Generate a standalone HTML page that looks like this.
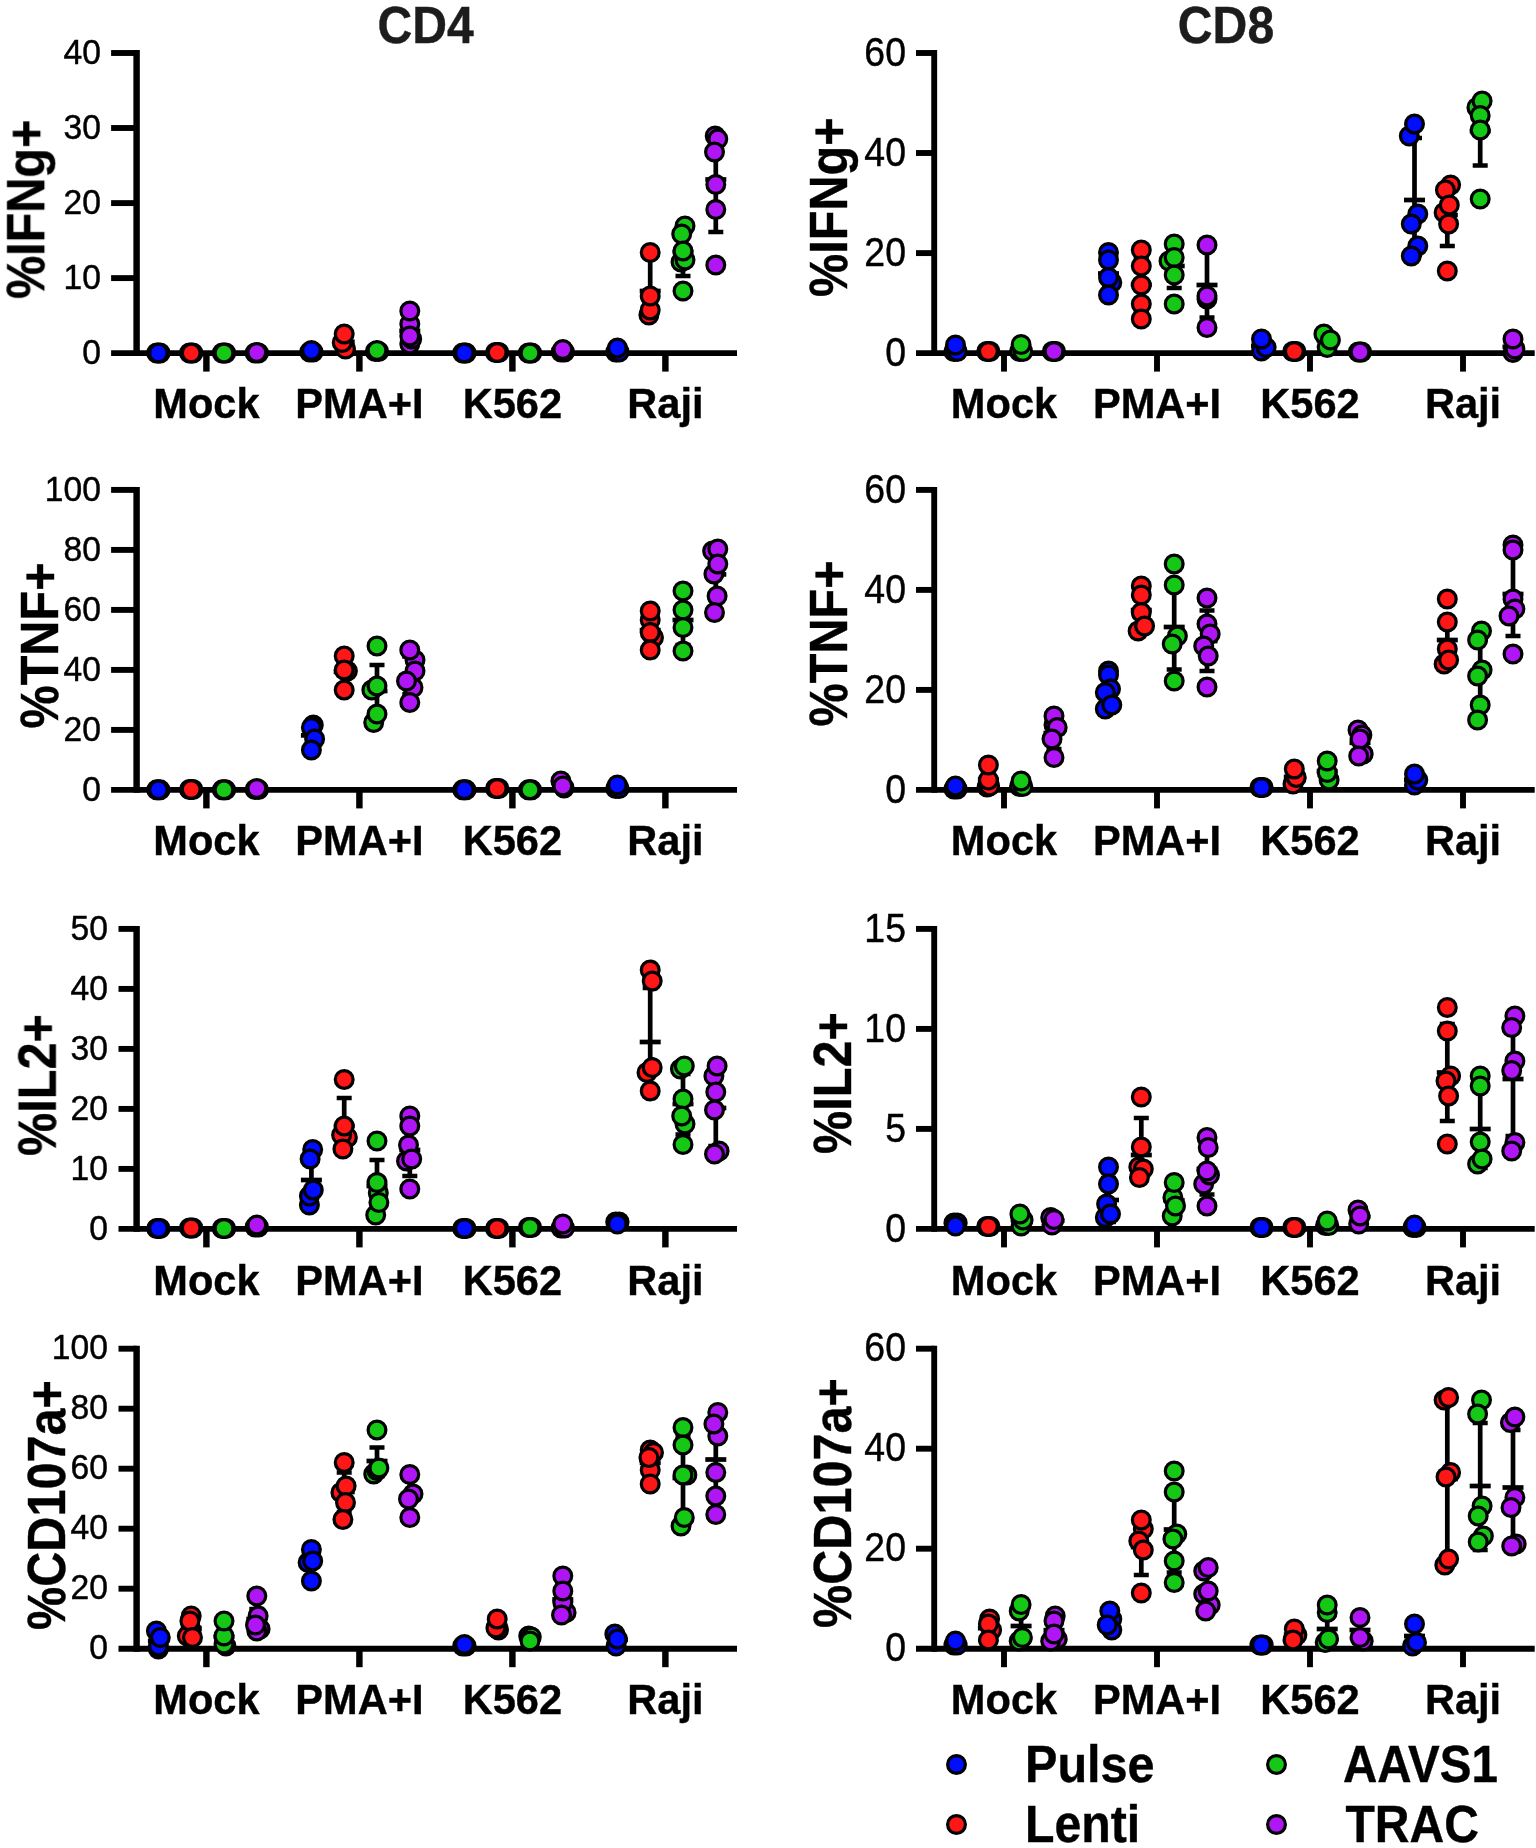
<!DOCTYPE html>
<html lang="en"><head><meta charset="utf-8"><title>Cytokine production CD4 / CD8</title>
<style>
html,body{margin:0;padding:0;background:#fff}
body{width:1536px;height:1848px;overflow:hidden}
svg{display:block}
text{font-family:"Liberation Sans",sans-serif;fill:#000;stroke:#000;stroke-width:0.4px}
.tl{font-weight:normal;stroke:#000;stroke-width:0.45px}
.cl{font-size:42.7px;font-weight:bold}
.yl{font-size:54px;font-weight:bold}
.tt{font-size:51.6px;font-weight:bold;fill:#1c1c1c;stroke:#1c1c1c}
.lg{font-size:52.7px;font-weight:bold}
circle{stroke:#000;stroke-width:3.2}
</style></head><body>
<svg width="1536" height="1848" viewBox="0 0 1536 1848">
<defs><filter id="soft" x="0" y="0" width="1536" height="1848" filterUnits="userSpaceOnUse"><feGaussianBlur stdDeviation="0.42"/></filter></defs>
<rect width="1536" height="1848" fill="#fff"/>
<g filter="url(#soft)">
<text class="tt" transform="translate(425.6 43.4) scale(0.934 1)" text-anchor="middle">CD4</text>
<text class="tt" transform="translate(1226 43.4) scale(0.934 1)" text-anchor="middle">CD8</text>
<path d="M136.6 50.05V356.05" stroke="#000" stroke-width="6.45"/>
<path d="M111.1 353.1H737" stroke="#000" stroke-width="5.9"/>
<text class="tl" font-size="36" transform="translate(101 363.7) scale(0.935 1)" text-anchor="end">0</text>
<path d="M111.1 278.1H136.6" stroke="#000" stroke-width="5.9"/>
<text class="tl" font-size="36" transform="translate(101 288.7) scale(0.935 1)" text-anchor="end">10</text>
<path d="M111.1 203.1H136.6" stroke="#000" stroke-width="5.9"/>
<text class="tl" font-size="36" transform="translate(101 213.7) scale(0.935 1)" text-anchor="end">20</text>
<path d="M111.1 128.0H136.6" stroke="#000" stroke-width="5.9"/>
<text class="tl" font-size="36" transform="translate(101 138.6) scale(0.935 1)" text-anchor="end">30</text>
<path d="M111.1 53.0H136.6" stroke="#000" stroke-width="5.9"/>
<text class="tl" font-size="36" transform="translate(101 63.6) scale(0.935 1)" text-anchor="end">40</text>
<path d="M206.4 353.1V371.6" stroke="#000" stroke-width="6.45"/>
<text class="cl" transform="translate(206.4 418.4) scale(0.974 1)" text-anchor="middle">Mock</text>
<path d="M359.4 353.1V371.6" stroke="#000" stroke-width="6.45"/>
<text class="cl" transform="translate(359.4 418.4) scale(0.974 1)" text-anchor="middle">PMA+I</text>
<path d="M512.4 353.1V371.6" stroke="#000" stroke-width="6.45"/>
<text class="cl" transform="translate(512.4 418.4) scale(0.974 1)" text-anchor="middle">K562</text>
<path d="M665.4 353.1V371.6" stroke="#000" stroke-width="6.45"/>
<text class="cl" transform="translate(665.4 418.4) scale(0.974 1)" text-anchor="middle">Raji</text>
<text class="yl" transform="translate(44.2 209.3) rotate(-90) scale(0.9 1)" text-anchor="middle">%IFNg+</text>
<path d="M147.9 353.0h21" stroke="#000" stroke-width="4.7" fill="none"/>
<circle cx="156.7" cy="353.0" r="8.9" fill="#0508ff"/>
<circle cx="160.1" cy="353.0" r="8.9" fill="#0508ff"/>
<circle cx="158.4" cy="353.0" r="8.9" fill="#0508ff"/>
<path d="M180.7 353.0h21" stroke="#000" stroke-width="4.7" fill="none"/>
<circle cx="189.5" cy="353.0" r="8.9" fill="#ff1212"/>
<circle cx="192.9" cy="353.0" r="8.9" fill="#ff1212"/>
<circle cx="191.2" cy="353.0" r="8.9" fill="#ff1212"/>
<path d="M213.5 353.0h21" stroke="#000" stroke-width="4.7" fill="none"/>
<circle cx="222.3" cy="353.0" r="8.9" fill="#14c814"/>
<circle cx="225.7" cy="353.0" r="8.9" fill="#14c814"/>
<circle cx="224.0" cy="353.0" r="8.9" fill="#14c814"/>
<path d="M246.3 352.8h21" stroke="#000" stroke-width="4.7" fill="none"/>
<circle cx="255.1" cy="353.0" r="8.9" fill="#b014f5"/>
<circle cx="258.5" cy="353.0" r="8.9" fill="#b014f5"/>
<circle cx="256.8" cy="352.5" r="8.9" fill="#b014f5"/>
<path d="M300.9 351.5h21" stroke="#000" stroke-width="4.7" fill="none"/>
<circle cx="309.7" cy="352.0" r="8.9" fill="#0508ff"/>
<circle cx="313.1" cy="352.0" r="8.9" fill="#0508ff"/>
<circle cx="311.4" cy="350.5" r="8.9" fill="#0508ff"/>
<path d="M344.2 334.3V349.4M336.7 334.3h15M336.7 349.4h15" stroke="#000" stroke-width="4.7" fill="none"/>
<path d="M333.7 341.8h21" stroke="#000" stroke-width="4.7" fill="none"/>
<circle cx="345.5" cy="349.0" r="8.9" fill="#ff1212"/>
<circle cx="342.2" cy="342.5" r="8.9" fill="#ff1212"/>
<circle cx="344.2" cy="334.0" r="8.9" fill="#ff1212"/>
<path d="M366.5 351.2h21" stroke="#000" stroke-width="4.7" fill="none"/>
<circle cx="375.3" cy="351.5" r="8.9" fill="#14c814"/>
<circle cx="378.7" cy="351.5" r="8.9" fill="#14c814"/>
<circle cx="377.0" cy="350.5" r="8.9" fill="#14c814"/>
<path d="M409.8 317.5V344.1M402.3 317.5h15M402.3 344.1h15" stroke="#000" stroke-width="4.7" fill="none"/>
<path d="M399.3 330.8h21" stroke="#000" stroke-width="4.7" fill="none"/>
<circle cx="409.8" cy="344.0" r="8.9" fill="#b014f5"/>
<circle cx="411.7" cy="339.0" r="8.9" fill="#b014f5"/>
<circle cx="409.8" cy="324.0" r="8.9" fill="#b014f5"/>
<circle cx="409.8" cy="336.0" r="8.9" fill="#b014f5"/>
<circle cx="409.8" cy="311.0" r="8.9" fill="#b014f5"/>
<path d="M453.9 353.0h21" stroke="#000" stroke-width="4.7" fill="none"/>
<circle cx="462.7" cy="353.0" r="8.9" fill="#0508ff"/>
<circle cx="466.1" cy="353.0" r="8.9" fill="#0508ff"/>
<circle cx="464.4" cy="353.0" r="8.9" fill="#0508ff"/>
<path d="M486.7 352.5h21" stroke="#000" stroke-width="4.7" fill="none"/>
<circle cx="495.5" cy="352.5" r="8.9" fill="#ff1212"/>
<circle cx="498.9" cy="352.5" r="8.9" fill="#ff1212"/>
<circle cx="497.2" cy="352.5" r="8.9" fill="#ff1212"/>
<path d="M519.5 353.0h21" stroke="#000" stroke-width="4.7" fill="none"/>
<circle cx="528.3" cy="353.0" r="8.9" fill="#14c814"/>
<circle cx="531.7" cy="353.0" r="8.9" fill="#14c814"/>
<circle cx="530.0" cy="353.0" r="8.9" fill="#14c814"/>
<path d="M552.3 351.2h21" stroke="#000" stroke-width="4.7" fill="none"/>
<circle cx="561.1" cy="352.0" r="8.9" fill="#b014f5"/>
<circle cx="564.5" cy="352.0" r="8.9" fill="#b014f5"/>
<circle cx="562.8" cy="349.5" r="8.9" fill="#b014f5"/>
<path d="M617.4 348.4V353.0M609.9 348.4h15M609.9 353.0h15" stroke="#000" stroke-width="4.7" fill="none"/>
<path d="M606.9 350.7h21" stroke="#000" stroke-width="4.7" fill="none"/>
<circle cx="615.7" cy="352.0" r="8.9" fill="#0508ff"/>
<circle cx="619.1" cy="352.0" r="8.9" fill="#0508ff"/>
<circle cx="617.4" cy="348.0" r="8.9" fill="#0508ff"/>
<path d="M650.2 255.0V318.0M642.7 255.0h15M642.7 318.0h15" stroke="#000" stroke-width="4.7" fill="none"/>
<path d="M639.7 291.0h21" stroke="#000" stroke-width="4.7" fill="none"/>
<circle cx="648.9" cy="315.0" r="8.9" fill="#ff1212"/>
<circle cx="650.2" cy="310.0" r="8.9" fill="#ff1212"/>
<circle cx="650.2" cy="296.0" r="8.9" fill="#ff1212"/>
<circle cx="650.2" cy="252.5" r="8.9" fill="#ff1212"/>
<path d="M683.0 228.0V276.0M675.5 228.0h15M675.5 276.0h15" stroke="#000" stroke-width="4.7" fill="none"/>
<path d="M672.5 252.0h21" stroke="#000" stroke-width="4.7" fill="none"/>
<circle cx="683.0" cy="291.0" r="8.9" fill="#14c814"/>
<circle cx="681.0" cy="262.0" r="8.9" fill="#14c814"/>
<circle cx="685.0" cy="260.0" r="8.9" fill="#14c814"/>
<circle cx="685.0" cy="226.0" r="8.9" fill="#14c814"/>
<circle cx="681.7" cy="234.0" r="8.9" fill="#14c814"/>
<circle cx="683.0" cy="251.0" r="8.9" fill="#14c814"/>
<path d="M715.8 134.0V232.0M708.3 134.0h15M708.3 232.0h15" stroke="#000" stroke-width="4.7" fill="none"/>
<path d="M705.3 179.5h21" stroke="#000" stroke-width="4.7" fill="none"/>
<circle cx="715.2" cy="136.0" r="8.9" fill="#b014f5"/>
<circle cx="717.8" cy="139.0" r="8.9" fill="#b014f5"/>
<circle cx="714.5" cy="152.0" r="8.9" fill="#b014f5"/>
<circle cx="715.8" cy="184.5" r="8.9" fill="#b014f5"/>
<circle cx="715.8" cy="209.5" r="8.9" fill="#b014f5"/>
<circle cx="715.8" cy="265.0" r="8.9" fill="#b014f5"/>
<path d="M934.2 50.05V356.05" stroke="#000" stroke-width="5.9"/>
<path d="M916 353.1H1534.7" stroke="#000" stroke-width="5.9"/>
<text class="tl" font-size="40.5" transform="translate(906 365.7) scale(0.924 1)" text-anchor="end">0</text>
<path d="M916 253.1H934.2" stroke="#000" stroke-width="5.9"/>
<text class="tl" font-size="40.5" transform="translate(906 265.7) scale(0.924 1)" text-anchor="end">20</text>
<path d="M916 153.0H934.2" stroke="#000" stroke-width="5.9"/>
<text class="tl" font-size="40.5" transform="translate(906 165.6) scale(0.924 1)" text-anchor="end">40</text>
<path d="M916 53.0H934.2" stroke="#000" stroke-width="5.9"/>
<text class="tl" font-size="40.5" transform="translate(906 65.6) scale(0.924 1)" text-anchor="end">60</text>
<path d="M1004 353.1V371.6" stroke="#000" stroke-width="5.9"/>
<text class="cl" transform="translate(1004 418.4) scale(0.974 1)" text-anchor="middle">Mock</text>
<path d="M1157 353.1V371.6" stroke="#000" stroke-width="5.9"/>
<text class="cl" transform="translate(1157 418.4) scale(0.974 1)" text-anchor="middle">PMA+I</text>
<path d="M1310 353.1V371.6" stroke="#000" stroke-width="5.9"/>
<text class="cl" transform="translate(1310 418.4) scale(0.974 1)" text-anchor="middle">K562</text>
<path d="M1463 353.1V371.6" stroke="#000" stroke-width="5.9"/>
<text class="cl" transform="translate(1463 418.4) scale(0.974 1)" text-anchor="middle">Raji</text>
<text class="yl" transform="translate(846.8 207.2) rotate(-90) scale(0.9 1)" text-anchor="middle">%IFNg+</text>
<path d="M955.5 345.6V353.1M948.0 345.6h15M948.0 353.1h15" stroke="#000" stroke-width="4.7" fill="none"/>
<path d="M945.0 349.3h21" stroke="#000" stroke-width="4.7" fill="none"/>
<circle cx="953.9" cy="351.5" r="8.9" fill="#0508ff"/>
<circle cx="957.2" cy="351.5" r="8.9" fill="#0508ff"/>
<circle cx="955.5" cy="345.0" r="8.9" fill="#0508ff"/>
<path d="M977.9 351.5h21" stroke="#000" stroke-width="4.7" fill="none"/>
<circle cx="986.7" cy="351.5" r="8.9" fill="#ff1212"/>
<circle cx="990.0" cy="351.5" r="8.9" fill="#ff1212"/>
<circle cx="988.4" cy="351.5" r="8.9" fill="#ff1212"/>
<path d="M1021.1 345.1V353.2M1013.6 345.1h15M1013.6 353.2h15" stroke="#000" stroke-width="4.7" fill="none"/>
<path d="M1010.6 349.2h21" stroke="#000" stroke-width="4.7" fill="none"/>
<circle cx="1019.5" cy="351.5" r="8.9" fill="#14c814"/>
<circle cx="1022.8" cy="351.5" r="8.9" fill="#14c814"/>
<circle cx="1021.1" cy="344.5" r="8.9" fill="#14c814"/>
<path d="M1043.5 351.5h21" stroke="#000" stroke-width="4.7" fill="none"/>
<circle cx="1052.3" cy="351.5" r="8.9" fill="#b014f5"/>
<circle cx="1055.6" cy="351.5" r="8.9" fill="#b014f5"/>
<circle cx="1054.0" cy="351.5" r="8.9" fill="#b014f5"/>
<path d="M1108.5 256.3V290.7M1101.0 256.3h15M1101.0 290.7h15" stroke="#000" stroke-width="4.7" fill="none"/>
<path d="M1098.0 273.5h21" stroke="#000" stroke-width="4.7" fill="none"/>
<circle cx="1108.5" cy="252.5" r="8.9" fill="#0508ff"/>
<circle cx="1111.8" cy="282.5" r="8.9" fill="#0508ff"/>
<circle cx="1108.5" cy="260.0" r="8.9" fill="#0508ff"/>
<circle cx="1108.5" cy="277.5" r="8.9" fill="#0508ff"/>
<circle cx="1108.5" cy="295.0" r="8.9" fill="#0508ff"/>
<path d="M1141.3 256.9V312.7M1133.8 256.9h15M1133.8 312.7h15" stroke="#000" stroke-width="4.7" fill="none"/>
<path d="M1130.8 284.8h21" stroke="#000" stroke-width="4.7" fill="none"/>
<circle cx="1141.3" cy="250.0" r="8.9" fill="#ff1212"/>
<circle cx="1141.3" cy="266.0" r="8.9" fill="#ff1212"/>
<circle cx="1141.3" cy="285.0" r="8.9" fill="#ff1212"/>
<circle cx="1141.3" cy="304.0" r="8.9" fill="#ff1212"/>
<circle cx="1141.3" cy="319.0" r="8.9" fill="#ff1212"/>
<path d="M1174.2 246.0V288.0M1166.7 246.0h15M1166.7 288.0h15" stroke="#000" stroke-width="4.7" fill="none"/>
<path d="M1163.7 266.0h21" stroke="#000" stroke-width="4.7" fill="none"/>
<circle cx="1169.0" cy="261.0" r="8.9" fill="#14c814"/>
<circle cx="1174.2" cy="244.0" r="8.9" fill="#14c814"/>
<circle cx="1174.2" cy="257.5" r="8.9" fill="#14c814"/>
<circle cx="1174.2" cy="275.0" r="8.9" fill="#14c814"/>
<circle cx="1174.2" cy="304.0" r="8.9" fill="#14c814"/>
<path d="M1207.0 245.0V317.5M1199.5 245.0h15M1199.5 317.5h15" stroke="#000" stroke-width="4.7" fill="none"/>
<path d="M1196.5 285.0h21" stroke="#000" stroke-width="4.7" fill="none"/>
<circle cx="1207.0" cy="299.0" r="8.9" fill="#b014f5"/>
<circle cx="1207.0" cy="245.0" r="8.9" fill="#b014f5"/>
<circle cx="1207.0" cy="296.0" r="8.9" fill="#b014f5"/>
<circle cx="1207.0" cy="327.5" r="8.9" fill="#b014f5"/>
<path d="M1261.5 339.7V352.0M1254.0 339.7h15M1254.0 352.0h15" stroke="#000" stroke-width="4.7" fill="none"/>
<path d="M1251.0 345.8h21" stroke="#000" stroke-width="4.7" fill="none"/>
<circle cx="1261.5" cy="351.0" r="8.9" fill="#0508ff"/>
<circle cx="1266.1" cy="347.5" r="8.9" fill="#0508ff"/>
<circle cx="1261.5" cy="339.0" r="8.9" fill="#0508ff"/>
<path d="M1283.8 351.5h21" stroke="#000" stroke-width="4.7" fill="none"/>
<circle cx="1292.7" cy="351.5" r="8.9" fill="#ff1212"/>
<circle cx="1296.0" cy="351.5" r="8.9" fill="#ff1212"/>
<circle cx="1294.3" cy="351.5" r="8.9" fill="#ff1212"/>
<path d="M1327.2 333.7V347.3M1319.7 333.7h15M1319.7 347.3h15" stroke="#000" stroke-width="4.7" fill="none"/>
<path d="M1316.7 340.5h21" stroke="#000" stroke-width="4.7" fill="none"/>
<circle cx="1327.2" cy="347.5" r="8.9" fill="#14c814"/>
<circle cx="1323.9" cy="334.0" r="8.9" fill="#14c814"/>
<circle cx="1330.4" cy="340.0" r="8.9" fill="#14c814"/>
<path d="M1349.5 352.0h21" stroke="#000" stroke-width="4.7" fill="none"/>
<circle cx="1358.3" cy="352.0" r="8.9" fill="#b014f5"/>
<circle cx="1361.6" cy="352.0" r="8.9" fill="#b014f5"/>
<circle cx="1360.0" cy="352.0" r="8.9" fill="#b014f5"/>
<path d="M1414.5 138.0V255.0M1407.0 138.0h15M1407.0 255.0h15" stroke="#000" stroke-width="4.7" fill="none"/>
<path d="M1404.0 200.0h21" stroke="#000" stroke-width="4.7" fill="none"/>
<circle cx="1409.3" cy="136.0" r="8.9" fill="#0508ff"/>
<circle cx="1414.5" cy="124.0" r="8.9" fill="#0508ff"/>
<circle cx="1417.8" cy="214.0" r="8.9" fill="#0508ff"/>
<circle cx="1411.3" cy="224.0" r="8.9" fill="#0508ff"/>
<circle cx="1417.8" cy="246.0" r="8.9" fill="#0508ff"/>
<circle cx="1411.3" cy="256.0" r="8.9" fill="#0508ff"/>
<path d="M1447.3 186.0V246.0M1439.8 186.0h15M1439.8 246.0h15" stroke="#000" stroke-width="4.7" fill="none"/>
<path d="M1436.8 215.0h21" stroke="#000" stroke-width="4.7" fill="none"/>
<circle cx="1450.6" cy="185.0" r="8.9" fill="#ff1212"/>
<circle cx="1445.4" cy="190.0" r="8.9" fill="#ff1212"/>
<circle cx="1444.1" cy="212.5" r="8.9" fill="#ff1212"/>
<circle cx="1449.3" cy="205.0" r="8.9" fill="#ff1212"/>
<circle cx="1448.6" cy="224.0" r="8.9" fill="#ff1212"/>
<circle cx="1447.3" cy="271.0" r="8.9" fill="#ff1212"/>
<path d="M1480.2 100.0V165.5M1472.7 100.0h15M1472.7 165.5h15" stroke="#000" stroke-width="4.7" fill="none"/>
<path d="M1469.7 131.0h21" stroke="#000" stroke-width="4.7" fill="none"/>
<circle cx="1476.9" cy="107.5" r="8.9" fill="#14c814"/>
<circle cx="1482.1" cy="101.0" r="8.9" fill="#14c814"/>
<circle cx="1480.2" cy="115.5" r="8.9" fill="#14c814"/>
<circle cx="1480.2" cy="130.0" r="8.9" fill="#14c814"/>
<circle cx="1480.2" cy="199.0" r="8.9" fill="#14c814"/>
<path d="M1513.0 339.8V353.8M1505.5 339.8h15M1505.5 353.8h15" stroke="#000" stroke-width="4.7" fill="none"/>
<path d="M1502.5 346.8h21" stroke="#000" stroke-width="4.7" fill="none"/>
<circle cx="1513.0" cy="352.5" r="8.9" fill="#b014f5"/>
<circle cx="1514.9" cy="349.0" r="8.9" fill="#b014f5"/>
<circle cx="1513.0" cy="339.0" r="8.9" fill="#b014f5"/>
<path d="M136.6 486.95V792.85" stroke="#000" stroke-width="6.45"/>
<path d="M111.1 789.9H737" stroke="#000" stroke-width="5.9"/>
<text class="tl" font-size="36" transform="translate(101 800.5) scale(0.935 1)" text-anchor="end">0</text>
<path d="M111.1 729.9H136.6" stroke="#000" stroke-width="5.9"/>
<text class="tl" font-size="36" transform="translate(101 740.5) scale(0.935 1)" text-anchor="end">20</text>
<path d="M111.1 669.9H136.6" stroke="#000" stroke-width="5.9"/>
<text class="tl" font-size="36" transform="translate(101 680.5) scale(0.935 1)" text-anchor="end">40</text>
<path d="M111.1 609.9H136.6" stroke="#000" stroke-width="5.9"/>
<text class="tl" font-size="36" transform="translate(101 620.5) scale(0.935 1)" text-anchor="end">60</text>
<path d="M111.1 549.9H136.6" stroke="#000" stroke-width="5.9"/>
<text class="tl" font-size="36" transform="translate(101 560.5) scale(0.935 1)" text-anchor="end">80</text>
<path d="M111.1 489.9H136.6" stroke="#000" stroke-width="5.9"/>
<text class="tl" font-size="36" transform="translate(101 500.5) scale(0.935 1)" text-anchor="end">100</text>
<path d="M206.4 789.9V808.4" stroke="#000" stroke-width="6.45"/>
<text class="cl" transform="translate(206.4 855.4) scale(0.974 1)" text-anchor="middle">Mock</text>
<path d="M359.4 789.9V808.4" stroke="#000" stroke-width="6.45"/>
<text class="cl" transform="translate(359.4 855.4) scale(0.974 1)" text-anchor="middle">PMA+I</text>
<path d="M512.4 789.9V808.4" stroke="#000" stroke-width="6.45"/>
<text class="cl" transform="translate(512.4 855.4) scale(0.974 1)" text-anchor="middle">K562</text>
<path d="M665.4 789.9V808.4" stroke="#000" stroke-width="6.45"/>
<text class="cl" transform="translate(665.4 855.4) scale(0.974 1)" text-anchor="middle">Raji</text>
<text class="yl" transform="translate(57.5 645.5) rotate(-90) scale(0.9 1)" text-anchor="middle">%TNF+</text>
<path d="M147.9 789.8h21" stroke="#000" stroke-width="4.7" fill="none"/>
<circle cx="156.7" cy="789.8" r="8.9" fill="#0508ff"/>
<circle cx="160.1" cy="789.8" r="8.9" fill="#0508ff"/>
<circle cx="158.4" cy="789.8" r="8.9" fill="#0508ff"/>
<path d="M180.7 789.5h21" stroke="#000" stroke-width="4.7" fill="none"/>
<circle cx="189.5" cy="789.5" r="8.9" fill="#ff1212"/>
<circle cx="192.9" cy="789.5" r="8.9" fill="#ff1212"/>
<circle cx="191.2" cy="789.5" r="8.9" fill="#ff1212"/>
<path d="M213.5 789.8h21" stroke="#000" stroke-width="4.7" fill="none"/>
<circle cx="222.3" cy="789.8" r="8.9" fill="#14c814"/>
<circle cx="225.7" cy="789.8" r="8.9" fill="#14c814"/>
<circle cx="224.0" cy="789.8" r="8.9" fill="#14c814"/>
<path d="M246.3 789.2h21" stroke="#000" stroke-width="4.7" fill="none"/>
<circle cx="255.1" cy="789.5" r="8.9" fill="#b014f5"/>
<circle cx="258.5" cy="789.5" r="8.9" fill="#b014f5"/>
<circle cx="256.8" cy="788.5" r="8.9" fill="#b014f5"/>
<path d="M311.4 723.9V746.9M303.9 723.9h15M303.9 746.9h15" stroke="#000" stroke-width="4.7" fill="none"/>
<path d="M300.9 735.4h21" stroke="#000" stroke-width="4.7" fill="none"/>
<circle cx="313.3" cy="725.0" r="8.9" fill="#0508ff"/>
<circle cx="311.4" cy="727.5" r="8.9" fill="#0508ff"/>
<circle cx="314.6" cy="739.0" r="8.9" fill="#0508ff"/>
<circle cx="311.4" cy="750.0" r="8.9" fill="#0508ff"/>
<path d="M344.2 657.8V685.7M336.7 657.8h15M336.7 685.7h15" stroke="#000" stroke-width="4.7" fill="none"/>
<path d="M333.7 671.8h21" stroke="#000" stroke-width="4.7" fill="none"/>
<circle cx="347.4" cy="671.0" r="8.9" fill="#ff1212"/>
<circle cx="344.2" cy="656.0" r="8.9" fill="#ff1212"/>
<circle cx="344.2" cy="670.0" r="8.9" fill="#ff1212"/>
<circle cx="344.2" cy="690.0" r="8.9" fill="#ff1212"/>
<path d="M377.0 665.0V718.0M369.5 665.0h15M369.5 718.0h15" stroke="#000" stroke-width="4.7" fill="none"/>
<path d="M366.5 691.0h21" stroke="#000" stroke-width="4.7" fill="none"/>
<circle cx="371.8" cy="690.0" r="8.9" fill="#14c814"/>
<circle cx="373.7" cy="722.5" r="8.9" fill="#14c814"/>
<circle cx="377.0" cy="646.0" r="8.9" fill="#14c814"/>
<circle cx="377.0" cy="686.0" r="8.9" fill="#14c814"/>
<circle cx="377.0" cy="714.0" r="8.9" fill="#14c814"/>
<path d="M409.8 656.3V694.4M402.3 656.3h15M402.3 694.4h15" stroke="#000" stroke-width="4.7" fill="none"/>
<path d="M399.3 675.3h21" stroke="#000" stroke-width="4.7" fill="none"/>
<circle cx="415.0" cy="660.0" r="8.9" fill="#b014f5"/>
<circle cx="413.0" cy="687.5" r="8.9" fill="#b014f5"/>
<circle cx="409.8" cy="650.0" r="8.9" fill="#b014f5"/>
<circle cx="415.0" cy="671.0" r="8.9" fill="#b014f5"/>
<circle cx="406.5" cy="681.0" r="8.9" fill="#b014f5"/>
<circle cx="409.8" cy="702.5" r="8.9" fill="#b014f5"/>
<path d="M453.9 789.8h21" stroke="#000" stroke-width="4.7" fill="none"/>
<circle cx="462.7" cy="789.8" r="8.9" fill="#0508ff"/>
<circle cx="466.1" cy="789.8" r="8.9" fill="#0508ff"/>
<circle cx="464.4" cy="789.8" r="8.9" fill="#0508ff"/>
<path d="M486.7 788.5h21" stroke="#000" stroke-width="4.7" fill="none"/>
<circle cx="495.5" cy="788.5" r="8.9" fill="#ff1212"/>
<circle cx="498.9" cy="788.5" r="8.9" fill="#ff1212"/>
<circle cx="497.2" cy="788.5" r="8.9" fill="#ff1212"/>
<path d="M519.5 789.8h21" stroke="#000" stroke-width="4.7" fill="none"/>
<circle cx="528.3" cy="789.8" r="8.9" fill="#14c814"/>
<circle cx="531.7" cy="789.8" r="8.9" fill="#14c814"/>
<circle cx="530.0" cy="789.8" r="8.9" fill="#14c814"/>
<path d="M562.8 781.4V788.6M555.3 781.4h15M555.3 788.6h15" stroke="#000" stroke-width="4.7" fill="none"/>
<path d="M552.3 785.0h21" stroke="#000" stroke-width="4.7" fill="none"/>
<circle cx="560.9" cy="781.0" r="8.9" fill="#b014f5"/>
<circle cx="564.1" cy="788.0" r="8.9" fill="#b014f5"/>
<circle cx="562.8" cy="786.0" r="8.9" fill="#b014f5"/>
<path d="M617.4 785.3V789.4M609.9 785.3h15M609.9 789.4h15" stroke="#000" stroke-width="4.7" fill="none"/>
<path d="M606.9 787.3h21" stroke="#000" stroke-width="4.7" fill="none"/>
<circle cx="615.7" cy="788.5" r="8.9" fill="#0508ff"/>
<circle cx="619.1" cy="788.5" r="8.9" fill="#0508ff"/>
<circle cx="617.4" cy="785.0" r="8.9" fill="#0508ff"/>
<path d="M650.2 615.0V645.4M642.7 615.0h15M642.7 645.4h15" stroke="#000" stroke-width="4.7" fill="none"/>
<path d="M639.7 630.2h21" stroke="#000" stroke-width="4.7" fill="none"/>
<circle cx="650.2" cy="620.0" r="8.9" fill="#ff1212"/>
<circle cx="653.5" cy="637.5" r="8.9" fill="#ff1212"/>
<circle cx="650.2" cy="611.0" r="8.9" fill="#ff1212"/>
<circle cx="650.2" cy="632.5" r="8.9" fill="#ff1212"/>
<circle cx="650.2" cy="650.0" r="8.9" fill="#ff1212"/>
<path d="M683.0 595.0V645.0M675.5 595.0h15M675.5 645.0h15" stroke="#000" stroke-width="4.7" fill="none"/>
<path d="M672.5 620.0h21" stroke="#000" stroke-width="4.7" fill="none"/>
<circle cx="683.0" cy="591.0" r="8.9" fill="#14c814"/>
<circle cx="683.0" cy="610.0" r="8.9" fill="#14c814"/>
<circle cx="683.0" cy="627.5" r="8.9" fill="#14c814"/>
<circle cx="683.0" cy="651.0" r="8.9" fill="#14c814"/>
<path d="M715.8 549.0V599.8M708.3 549.0h15M708.3 599.8h15" stroke="#000" stroke-width="4.7" fill="none"/>
<path d="M705.3 574.4h21" stroke="#000" stroke-width="4.7" fill="none"/>
<circle cx="712.6" cy="551.0" r="8.9" fill="#b014f5"/>
<circle cx="717.8" cy="549.0" r="8.9" fill="#b014f5"/>
<circle cx="713.9" cy="574.0" r="8.9" fill="#b014f5"/>
<circle cx="717.8" cy="564.0" r="8.9" fill="#b014f5"/>
<circle cx="717.1" cy="596.0" r="8.9" fill="#b014f5"/>
<circle cx="714.5" cy="612.5" r="8.9" fill="#b014f5"/>
<path d="M934.2 486.95V792.85" stroke="#000" stroke-width="5.9"/>
<path d="M916 789.9H1534.7" stroke="#000" stroke-width="5.9"/>
<text class="tl" font-size="40.5" transform="translate(906 802.5) scale(0.924 1)" text-anchor="end">0</text>
<path d="M916 689.9H934.2" stroke="#000" stroke-width="5.9"/>
<text class="tl" font-size="40.5" transform="translate(906 702.5) scale(0.924 1)" text-anchor="end">20</text>
<path d="M916 589.9H934.2" stroke="#000" stroke-width="5.9"/>
<text class="tl" font-size="40.5" transform="translate(906 602.5) scale(0.924 1)" text-anchor="end">40</text>
<path d="M916 489.9H934.2" stroke="#000" stroke-width="5.9"/>
<text class="tl" font-size="40.5" transform="translate(906 502.5) scale(0.924 1)" text-anchor="end">60</text>
<path d="M1004 789.9V808.4" stroke="#000" stroke-width="5.9"/>
<text class="cl" transform="translate(1004 855.4) scale(0.974 1)" text-anchor="middle">Mock</text>
<path d="M1157 789.9V808.4" stroke="#000" stroke-width="5.9"/>
<text class="cl" transform="translate(1157 855.4) scale(0.974 1)" text-anchor="middle">PMA+I</text>
<path d="M1310 789.9V808.4" stroke="#000" stroke-width="5.9"/>
<text class="cl" transform="translate(1310 855.4) scale(0.974 1)" text-anchor="middle">K562</text>
<path d="M1463 789.9V808.4" stroke="#000" stroke-width="5.9"/>
<text class="cl" transform="translate(1463 855.4) scale(0.974 1)" text-anchor="middle">Raji</text>
<text class="yl" transform="translate(847 643.4) rotate(-90) scale(0.9 1)" text-anchor="middle">%TNF+</text>
<path d="M955.5 786.3V789.7M948.0 786.3h15M948.0 789.7h15" stroke="#000" stroke-width="4.7" fill="none"/>
<path d="M945.0 788.0h21" stroke="#000" stroke-width="4.7" fill="none"/>
<circle cx="953.9" cy="789.0" r="8.9" fill="#0508ff"/>
<circle cx="957.2" cy="789.0" r="8.9" fill="#0508ff"/>
<circle cx="955.5" cy="786.0" r="8.9" fill="#0508ff"/>
<path d="M988.4 769.4V789.6M980.9 769.4h15M980.9 789.6h15" stroke="#000" stroke-width="4.7" fill="none"/>
<path d="M977.9 779.5h21" stroke="#000" stroke-width="4.7" fill="none"/>
<circle cx="987.1" cy="787.0" r="8.9" fill="#ff1212"/>
<circle cx="989.6" cy="786.0" r="8.9" fill="#ff1212"/>
<circle cx="988.4" cy="780.0" r="8.9" fill="#ff1212"/>
<circle cx="988.4" cy="765.0" r="8.9" fill="#ff1212"/>
<path d="M1021.1 781.5V787.8M1013.6 781.5h15M1013.6 787.8h15" stroke="#000" stroke-width="4.7" fill="none"/>
<path d="M1010.6 784.7h21" stroke="#000" stroke-width="4.7" fill="none"/>
<circle cx="1019.5" cy="786.5" r="8.9" fill="#14c814"/>
<circle cx="1022.8" cy="786.5" r="8.9" fill="#14c814"/>
<circle cx="1021.1" cy="781.0" r="8.9" fill="#14c814"/>
<path d="M1054.0 717.0V749.0M1046.5 717.0h15M1046.5 749.0h15" stroke="#000" stroke-width="4.7" fill="none"/>
<path d="M1043.5 733.0h21" stroke="#000" stroke-width="4.7" fill="none"/>
<circle cx="1054.0" cy="725.0" r="8.9" fill="#b014f5"/>
<circle cx="1054.0" cy="716.0" r="8.9" fill="#b014f5"/>
<circle cx="1057.2" cy="727.5" r="8.9" fill="#b014f5"/>
<circle cx="1052.0" cy="739.0" r="8.9" fill="#b014f5"/>
<circle cx="1054.0" cy="757.5" r="8.9" fill="#b014f5"/>
<path d="M1108.5 674.9V705.6M1101.0 674.9h15M1101.0 705.6h15" stroke="#000" stroke-width="4.7" fill="none"/>
<path d="M1098.0 690.2h21" stroke="#000" stroke-width="4.7" fill="none"/>
<circle cx="1108.5" cy="671.0" r="8.9" fill="#0508ff"/>
<circle cx="1105.3" cy="709.0" r="8.9" fill="#0508ff"/>
<circle cx="1108.5" cy="675.0" r="8.9" fill="#0508ff"/>
<circle cx="1110.5" cy="689.0" r="8.9" fill="#0508ff"/>
<circle cx="1105.3" cy="692.5" r="8.9" fill="#0508ff"/>
<circle cx="1111.8" cy="705.0" r="8.9" fill="#0508ff"/>
<path d="M1141.3 590.7V629.5M1133.8 590.7h15M1133.8 629.5h15" stroke="#000" stroke-width="4.7" fill="none"/>
<path d="M1130.8 610.1h21" stroke="#000" stroke-width="4.7" fill="none"/>
<circle cx="1138.1" cy="631.0" r="8.9" fill="#ff1212"/>
<circle cx="1141.3" cy="586.0" r="8.9" fill="#ff1212"/>
<circle cx="1141.3" cy="595.0" r="8.9" fill="#ff1212"/>
<circle cx="1141.3" cy="612.5" r="8.9" fill="#ff1212"/>
<circle cx="1144.6" cy="626.0" r="8.9" fill="#ff1212"/>
<path d="M1174.2 585.0V669.5M1166.7 585.0h15M1166.7 669.5h15" stroke="#000" stroke-width="4.7" fill="none"/>
<path d="M1163.7 627.0h21" stroke="#000" stroke-width="4.7" fill="none"/>
<circle cx="1174.2" cy="564.0" r="8.9" fill="#14c814"/>
<circle cx="1174.2" cy="585.0" r="8.9" fill="#14c814"/>
<circle cx="1177.4" cy="636.0" r="8.9" fill="#14c814"/>
<circle cx="1172.2" cy="644.0" r="8.9" fill="#14c814"/>
<circle cx="1174.2" cy="681.0" r="8.9" fill="#14c814"/>
<path d="M1207.0 610.5V671.0M1199.5 610.5h15M1199.5 671.0h15" stroke="#000" stroke-width="4.7" fill="none"/>
<path d="M1196.5 641.0h21" stroke="#000" stroke-width="4.7" fill="none"/>
<circle cx="1207.0" cy="598.0" r="8.9" fill="#b014f5"/>
<circle cx="1207.0" cy="624.0" r="8.9" fill="#b014f5"/>
<circle cx="1210.2" cy="634.0" r="8.9" fill="#b014f5"/>
<circle cx="1203.7" cy="646.0" r="8.9" fill="#b014f5"/>
<circle cx="1208.2" cy="656.0" r="8.9" fill="#b014f5"/>
<circle cx="1207.0" cy="687.0" r="8.9" fill="#b014f5"/>
<path d="M1251.0 787.5h21" stroke="#000" stroke-width="4.7" fill="none"/>
<circle cx="1259.9" cy="787.5" r="8.9" fill="#0508ff"/>
<circle cx="1263.2" cy="787.5" r="8.9" fill="#0508ff"/>
<circle cx="1261.5" cy="787.5" r="8.9" fill="#0508ff"/>
<path d="M1294.3 769.3V784.4M1286.8 769.3h15M1286.8 784.4h15" stroke="#000" stroke-width="4.7" fill="none"/>
<path d="M1283.8 776.8h21" stroke="#000" stroke-width="4.7" fill="none"/>
<circle cx="1293.0" cy="784.0" r="8.9" fill="#ff1212"/>
<circle cx="1296.3" cy="777.5" r="8.9" fill="#ff1212"/>
<circle cx="1294.3" cy="769.0" r="8.9" fill="#ff1212"/>
<path d="M1327.2 761.6V780.7M1319.7 761.6h15M1319.7 780.7h15" stroke="#000" stroke-width="4.7" fill="none"/>
<path d="M1316.7 771.2h21" stroke="#000" stroke-width="4.7" fill="none"/>
<circle cx="1329.1" cy="780.0" r="8.9" fill="#14c814"/>
<circle cx="1327.2" cy="772.5" r="8.9" fill="#14c814"/>
<circle cx="1327.2" cy="761.0" r="8.9" fill="#14c814"/>
<path d="M1360.0 731.2V754.4M1352.5 731.2h15M1352.5 754.4h15" stroke="#000" stroke-width="4.7" fill="none"/>
<path d="M1349.5 742.8h21" stroke="#000" stroke-width="4.7" fill="none"/>
<circle cx="1358.0" cy="730.0" r="8.9" fill="#b014f5"/>
<circle cx="1361.9" cy="735.0" r="8.9" fill="#b014f5"/>
<circle cx="1363.2" cy="754.0" r="8.9" fill="#b014f5"/>
<circle cx="1360.0" cy="739.0" r="8.9" fill="#b014f5"/>
<circle cx="1358.7" cy="756.0" r="8.9" fill="#b014f5"/>
<path d="M1414.5 774.2V785.2M1407.0 774.2h15M1407.0 785.2h15" stroke="#000" stroke-width="4.7" fill="none"/>
<path d="M1404.0 779.7h21" stroke="#000" stroke-width="4.7" fill="none"/>
<circle cx="1414.5" cy="785.0" r="8.9" fill="#0508ff"/>
<circle cx="1417.8" cy="780.0" r="8.9" fill="#0508ff"/>
<circle cx="1414.5" cy="774.0" r="8.9" fill="#0508ff"/>
<path d="M1447.3 620.0V664.0M1439.8 620.0h15M1439.8 664.0h15" stroke="#000" stroke-width="4.7" fill="none"/>
<path d="M1436.8 640.0h21" stroke="#000" stroke-width="4.7" fill="none"/>
<circle cx="1444.1" cy="664.0" r="8.9" fill="#ff1212"/>
<circle cx="1447.3" cy="599.0" r="8.9" fill="#ff1212"/>
<circle cx="1447.3" cy="622.0" r="8.9" fill="#ff1212"/>
<circle cx="1447.3" cy="649.0" r="8.9" fill="#ff1212"/>
<circle cx="1448.6" cy="660.0" r="8.9" fill="#ff1212"/>
<path d="M1480.2 640.0V706.0M1472.7 640.0h15M1472.7 706.0h15" stroke="#000" stroke-width="4.7" fill="none"/>
<path d="M1469.7 673.0h21" stroke="#000" stroke-width="4.7" fill="none"/>
<circle cx="1481.5" cy="631.0" r="8.9" fill="#14c814"/>
<circle cx="1477.6" cy="640.0" r="8.9" fill="#14c814"/>
<circle cx="1482.1" cy="670.0" r="8.9" fill="#14c814"/>
<circle cx="1477.6" cy="676.0" r="8.9" fill="#14c814"/>
<circle cx="1480.2" cy="705.0" r="8.9" fill="#14c814"/>
<circle cx="1477.6" cy="720.0" r="8.9" fill="#14c814"/>
<path d="M1513.0 552.0V636.0M1505.5 552.0h15M1505.5 636.0h15" stroke="#000" stroke-width="4.7" fill="none"/>
<path d="M1502.5 594.0h21" stroke="#000" stroke-width="4.7" fill="none"/>
<circle cx="1513.0" cy="545.0" r="8.9" fill="#b014f5"/>
<circle cx="1513.0" cy="550.0" r="8.9" fill="#b014f5"/>
<circle cx="1513.0" cy="599.0" r="8.9" fill="#b014f5"/>
<circle cx="1514.9" cy="609.0" r="8.9" fill="#b014f5"/>
<circle cx="1509.0" cy="616.0" r="8.9" fill="#b014f5"/>
<circle cx="1513.0" cy="654.0" r="8.9" fill="#b014f5"/>
<path d="M136.6 925.9499999999999V1231.8500000000001" stroke="#000" stroke-width="6.45"/>
<path d="M118.5 1228.9H737" stroke="#000" stroke-width="5.9"/>
<text class="tl" font-size="36" transform="translate(108 1239.5) scale(0.935 1)" text-anchor="end">0</text>
<path d="M118.5 1168.9H136.6" stroke="#000" stroke-width="5.9"/>
<text class="tl" font-size="36" transform="translate(108 1179.5) scale(0.935 1)" text-anchor="end">10</text>
<path d="M118.5 1108.9H136.6" stroke="#000" stroke-width="5.9"/>
<text class="tl" font-size="36" transform="translate(108 1119.5) scale(0.935 1)" text-anchor="end">20</text>
<path d="M118.5 1048.9H136.6" stroke="#000" stroke-width="5.9"/>
<text class="tl" font-size="36" transform="translate(108 1059.5) scale(0.935 1)" text-anchor="end">30</text>
<path d="M118.5 988.9H136.6" stroke="#000" stroke-width="5.9"/>
<text class="tl" font-size="36" transform="translate(108 999.5) scale(0.935 1)" text-anchor="end">40</text>
<path d="M118.5 928.9H136.6" stroke="#000" stroke-width="5.9"/>
<text class="tl" font-size="36" transform="translate(108 939.5) scale(0.935 1)" text-anchor="end">50</text>
<path d="M206.4 1228.9V1247.4" stroke="#000" stroke-width="6.45"/>
<text class="cl" transform="translate(206.4 1295.2) scale(0.974 1)" text-anchor="middle">Mock</text>
<path d="M359.4 1228.9V1247.4" stroke="#000" stroke-width="6.45"/>
<text class="cl" transform="translate(359.4 1295.2) scale(0.974 1)" text-anchor="middle">PMA+I</text>
<path d="M512.4 1228.9V1247.4" stroke="#000" stroke-width="6.45"/>
<text class="cl" transform="translate(512.4 1295.2) scale(0.974 1)" text-anchor="middle">K562</text>
<path d="M665.4 1228.9V1247.4" stroke="#000" stroke-width="6.45"/>
<text class="cl" transform="translate(665.4 1295.2) scale(0.974 1)" text-anchor="middle">Raji</text>
<text class="yl" transform="translate(55.7 1085) rotate(-90) scale(0.9 1)" text-anchor="middle">%IL2+</text>
<path d="M147.9 1228.5h21" stroke="#000" stroke-width="4.7" fill="none"/>
<circle cx="156.7" cy="1228.5" r="8.9" fill="#0508ff"/>
<circle cx="160.1" cy="1228.5" r="8.9" fill="#0508ff"/>
<circle cx="158.4" cy="1228.5" r="8.9" fill="#0508ff"/>
<path d="M180.7 1228.0h21" stroke="#000" stroke-width="4.7" fill="none"/>
<circle cx="189.5" cy="1228.0" r="8.9" fill="#ff1212"/>
<circle cx="192.9" cy="1228.0" r="8.9" fill="#ff1212"/>
<circle cx="191.2" cy="1228.0" r="8.9" fill="#ff1212"/>
<path d="M213.5 1228.5h21" stroke="#000" stroke-width="4.7" fill="none"/>
<circle cx="222.3" cy="1228.5" r="8.9" fill="#14c814"/>
<circle cx="225.7" cy="1228.5" r="8.9" fill="#14c814"/>
<circle cx="224.0" cy="1228.5" r="8.9" fill="#14c814"/>
<path d="M246.3 1226.3h21" stroke="#000" stroke-width="4.7" fill="none"/>
<circle cx="255.1" cy="1227.0" r="8.9" fill="#b014f5"/>
<circle cx="258.5" cy="1227.0" r="8.9" fill="#b014f5"/>
<circle cx="256.8" cy="1225.0" r="8.9" fill="#b014f5"/>
<path d="M311.4 1158.0V1204.0M303.9 1158.0h15M303.9 1204.0h15" stroke="#000" stroke-width="4.7" fill="none"/>
<path d="M300.9 1180.0h21" stroke="#000" stroke-width="4.7" fill="none"/>
<circle cx="309.4" cy="1205.0" r="8.9" fill="#0508ff"/>
<circle cx="309.4" cy="1196.0" r="8.9" fill="#0508ff"/>
<circle cx="312.7" cy="1149.5" r="8.9" fill="#0508ff"/>
<circle cx="310.1" cy="1159.0" r="8.9" fill="#0508ff"/>
<circle cx="313.3" cy="1190.0" r="8.9" fill="#0508ff"/>
<path d="M344.2 1098.0V1152.0M336.7 1098.0h15M336.7 1152.0h15" stroke="#000" stroke-width="4.7" fill="none"/>
<path d="M333.7 1126.0h21" stroke="#000" stroke-width="4.7" fill="none"/>
<circle cx="347.4" cy="1137.5" r="8.9" fill="#ff1212"/>
<circle cx="341.6" cy="1135.0" r="8.9" fill="#ff1212"/>
<circle cx="344.2" cy="1079.5" r="8.9" fill="#ff1212"/>
<circle cx="344.2" cy="1126.0" r="8.9" fill="#ff1212"/>
<circle cx="342.9" cy="1149.0" r="8.9" fill="#ff1212"/>
<path d="M377.0 1160.0V1212.0M369.5 1160.0h15M369.5 1212.0h15" stroke="#000" stroke-width="4.7" fill="none"/>
<path d="M366.5 1186.0h21" stroke="#000" stroke-width="4.7" fill="none"/>
<circle cx="378.3" cy="1193.0" r="8.9" fill="#14c814"/>
<circle cx="377.0" cy="1141.0" r="8.9" fill="#14c814"/>
<circle cx="377.0" cy="1182.5" r="8.9" fill="#14c814"/>
<circle cx="375.7" cy="1215.0" r="8.9" fill="#14c814"/>
<circle cx="378.9" cy="1202.5" r="8.9" fill="#14c814"/>
<path d="M409.8 1124.0V1176.0M402.3 1124.0h15M402.3 1176.0h15" stroke="#000" stroke-width="4.7" fill="none"/>
<path d="M399.3 1150.0h21" stroke="#000" stroke-width="4.7" fill="none"/>
<circle cx="409.8" cy="1116.0" r="8.9" fill="#b014f5"/>
<circle cx="406.5" cy="1161.0" r="8.9" fill="#b014f5"/>
<circle cx="409.8" cy="1126.0" r="8.9" fill="#b014f5"/>
<circle cx="408.5" cy="1145.0" r="8.9" fill="#b014f5"/>
<circle cx="411.7" cy="1159.0" r="8.9" fill="#b014f5"/>
<circle cx="409.8" cy="1189.0" r="8.9" fill="#b014f5"/>
<path d="M453.9 1228.5h21" stroke="#000" stroke-width="4.7" fill="none"/>
<circle cx="462.7" cy="1228.5" r="8.9" fill="#0508ff"/>
<circle cx="466.1" cy="1228.5" r="8.9" fill="#0508ff"/>
<circle cx="464.4" cy="1228.5" r="8.9" fill="#0508ff"/>
<path d="M486.7 1228.5h21" stroke="#000" stroke-width="4.7" fill="none"/>
<circle cx="495.5" cy="1228.5" r="8.9" fill="#ff1212"/>
<circle cx="498.9" cy="1228.5" r="8.9" fill="#ff1212"/>
<circle cx="497.2" cy="1228.5" r="8.9" fill="#ff1212"/>
<path d="M519.5 1227.5h21" stroke="#000" stroke-width="4.7" fill="none"/>
<circle cx="528.3" cy="1227.5" r="8.9" fill="#14c814"/>
<circle cx="531.7" cy="1227.5" r="8.9" fill="#14c814"/>
<circle cx="530.0" cy="1227.5" r="8.9" fill="#14c814"/>
<path d="M562.8 1224.4V1229.0M555.3 1224.4h15M555.3 1229.0h15" stroke="#000" stroke-width="4.7" fill="none"/>
<path d="M552.3 1226.7h21" stroke="#000" stroke-width="4.7" fill="none"/>
<circle cx="561.1" cy="1228.0" r="8.9" fill="#b014f5"/>
<circle cx="564.5" cy="1228.0" r="8.9" fill="#b014f5"/>
<circle cx="562.8" cy="1224.0" r="8.9" fill="#b014f5"/>
<path d="M606.9 1222.7h21" stroke="#000" stroke-width="4.7" fill="none"/>
<circle cx="615.7" cy="1222.0" r="8.9" fill="#0508ff"/>
<circle cx="619.1" cy="1222.0" r="8.9" fill="#0508ff"/>
<circle cx="617.4" cy="1224.0" r="8.9" fill="#0508ff"/>
<path d="M650.2 988.0V1096.0M642.7 988.0h15M642.7 1096.0h15" stroke="#000" stroke-width="4.7" fill="none"/>
<path d="M639.7 1042.0h21" stroke="#000" stroke-width="4.7" fill="none"/>
<circle cx="647.0" cy="1072.5" r="8.9" fill="#ff1212"/>
<circle cx="650.2" cy="970.0" r="8.9" fill="#ff1212"/>
<circle cx="652.2" cy="981.0" r="8.9" fill="#ff1212"/>
<circle cx="652.2" cy="1067.5" r="8.9" fill="#ff1212"/>
<circle cx="650.2" cy="1091.0" r="8.9" fill="#ff1212"/>
<path d="M683.0 1074.0V1134.5M675.5 1074.0h15M675.5 1134.5h15" stroke="#000" stroke-width="4.7" fill="none"/>
<path d="M672.5 1104.0h21" stroke="#000" stroke-width="4.7" fill="none"/>
<circle cx="680.4" cy="1069.0" r="8.9" fill="#14c814"/>
<circle cx="685.0" cy="1124.0" r="8.9" fill="#14c814"/>
<circle cx="684.3" cy="1066.0" r="8.9" fill="#14c814"/>
<circle cx="683.0" cy="1099.0" r="8.9" fill="#14c814"/>
<circle cx="681.7" cy="1116.0" r="8.9" fill="#14c814"/>
<circle cx="683.0" cy="1144.5" r="8.9" fill="#14c814"/>
<path d="M715.8 1072.0V1146.0M708.3 1072.0h15M708.3 1146.0h15" stroke="#000" stroke-width="4.7" fill="none"/>
<path d="M705.3 1108.0h21" stroke="#000" stroke-width="4.7" fill="none"/>
<circle cx="713.9" cy="1076.0" r="8.9" fill="#b014f5"/>
<circle cx="719.1" cy="1151.0" r="8.9" fill="#b014f5"/>
<circle cx="717.1" cy="1066.0" r="8.9" fill="#b014f5"/>
<circle cx="715.8" cy="1092.0" r="8.9" fill="#b014f5"/>
<circle cx="714.5" cy="1110.0" r="8.9" fill="#b014f5"/>
<circle cx="714.5" cy="1154.0" r="8.9" fill="#b014f5"/>
<path d="M934.2 925.9499999999999V1231.8500000000001" stroke="#000" stroke-width="5.9"/>
<path d="M916 1228.9H1534.7" stroke="#000" stroke-width="5.9"/>
<text class="tl" font-size="40.5" transform="translate(906 1241.5) scale(0.924 1)" text-anchor="end">0</text>
<path d="M916 1128.9H934.2" stroke="#000" stroke-width="5.9"/>
<text class="tl" font-size="40.5" transform="translate(906 1141.5) scale(0.924 1)" text-anchor="end">5</text>
<path d="M916 1028.9H934.2" stroke="#000" stroke-width="5.9"/>
<text class="tl" font-size="40.5" transform="translate(906 1041.5) scale(0.924 1)" text-anchor="end">10</text>
<path d="M916 928.9H934.2" stroke="#000" stroke-width="5.9"/>
<text class="tl" font-size="40.5" transform="translate(906 941.5) scale(0.924 1)" text-anchor="end">15</text>
<path d="M1004 1228.9V1247.4" stroke="#000" stroke-width="5.9"/>
<text class="cl" transform="translate(1004 1295.2) scale(0.974 1)" text-anchor="middle">Mock</text>
<path d="M1157 1228.9V1247.4" stroke="#000" stroke-width="5.9"/>
<text class="cl" transform="translate(1157 1295.2) scale(0.974 1)" text-anchor="middle">PMA+I</text>
<path d="M1310 1228.9V1247.4" stroke="#000" stroke-width="5.9"/>
<text class="cl" transform="translate(1310 1295.2) scale(0.974 1)" text-anchor="middle">K562</text>
<path d="M1463 1228.9V1247.4" stroke="#000" stroke-width="5.9"/>
<text class="cl" transform="translate(1463 1295.2) scale(0.974 1)" text-anchor="middle">Raji</text>
<text class="yl" transform="translate(850.5 1083) rotate(-90) scale(0.9 1)" text-anchor="middle">%IL2+</text>
<path d="M955.5 1222.3V1225.7M948.0 1222.3h15M948.0 1225.7h15" stroke="#000" stroke-width="4.7" fill="none"/>
<path d="M945.0 1224.0h21" stroke="#000" stroke-width="4.7" fill="none"/>
<circle cx="953.9" cy="1223.0" r="8.9" fill="#0508ff"/>
<circle cx="957.2" cy="1223.0" r="8.9" fill="#0508ff"/>
<circle cx="955.5" cy="1226.0" r="8.9" fill="#0508ff"/>
<path d="M977.9 1226.5h21" stroke="#000" stroke-width="4.7" fill="none"/>
<circle cx="986.7" cy="1226.5" r="8.9" fill="#ff1212"/>
<circle cx="990.0" cy="1226.5" r="8.9" fill="#ff1212"/>
<circle cx="988.4" cy="1226.5" r="8.9" fill="#ff1212"/>
<path d="M1021.1 1214.0V1226.0M1013.6 1214.0h15M1013.6 1226.0h15" stroke="#000" stroke-width="4.7" fill="none"/>
<path d="M1010.6 1220.0h21" stroke="#000" stroke-width="4.7" fill="none"/>
<circle cx="1021.1" cy="1226.0" r="8.9" fill="#14c814"/>
<circle cx="1023.1" cy="1220.0" r="8.9" fill="#14c814"/>
<circle cx="1019.9" cy="1214.0" r="8.9" fill="#14c814"/>
<path d="M1054.0 1216.8V1224.6M1046.5 1216.8h15M1046.5 1224.6h15" stroke="#000" stroke-width="4.7" fill="none"/>
<path d="M1043.5 1220.7h21" stroke="#000" stroke-width="4.7" fill="none"/>
<circle cx="1050.7" cy="1217.5" r="8.9" fill="#b014f5"/>
<circle cx="1052.0" cy="1225.0" r="8.9" fill="#b014f5"/>
<circle cx="1054.0" cy="1219.5" r="8.9" fill="#b014f5"/>
<path d="M1108.5 1178.0V1222.0M1101.0 1178.0h15M1101.0 1222.0h15" stroke="#000" stroke-width="4.7" fill="none"/>
<path d="M1098.0 1200.0h21" stroke="#000" stroke-width="4.7" fill="none"/>
<circle cx="1105.3" cy="1217.5" r="8.9" fill="#0508ff"/>
<circle cx="1108.5" cy="1167.0" r="8.9" fill="#0508ff"/>
<circle cx="1108.5" cy="1184.0" r="8.9" fill="#0508ff"/>
<circle cx="1106.6" cy="1204.0" r="8.9" fill="#0508ff"/>
<circle cx="1110.5" cy="1214.0" r="8.9" fill="#0508ff"/>
<path d="M1141.3 1118.0V1180.0M1133.8 1118.0h15M1133.8 1180.0h15" stroke="#000" stroke-width="4.7" fill="none"/>
<path d="M1130.8 1155.0h21" stroke="#000" stroke-width="4.7" fill="none"/>
<circle cx="1138.8" cy="1167.0" r="8.9" fill="#ff1212"/>
<circle cx="1141.3" cy="1097.0" r="8.9" fill="#ff1212"/>
<circle cx="1141.3" cy="1147.0" r="8.9" fill="#ff1212"/>
<circle cx="1143.3" cy="1169.0" r="8.9" fill="#ff1212"/>
<circle cx="1139.4" cy="1177.5" r="8.9" fill="#ff1212"/>
<path d="M1174.2 1186.3V1214.7M1166.7 1186.3h15M1166.7 1214.7h15" stroke="#000" stroke-width="4.7" fill="none"/>
<path d="M1163.7 1200.5h21" stroke="#000" stroke-width="4.7" fill="none"/>
<circle cx="1172.2" cy="1216.0" r="8.9" fill="#14c814"/>
<circle cx="1172.9" cy="1197.5" r="8.9" fill="#14c814"/>
<circle cx="1174.2" cy="1182.5" r="8.9" fill="#14c814"/>
<circle cx="1175.5" cy="1206.0" r="8.9" fill="#14c814"/>
<path d="M1207.0 1144.0V1194.5M1199.5 1144.0h15M1199.5 1194.5h15" stroke="#000" stroke-width="4.7" fill="none"/>
<path d="M1196.5 1169.0h21" stroke="#000" stroke-width="4.7" fill="none"/>
<circle cx="1207.0" cy="1137.5" r="8.9" fill="#b014f5"/>
<circle cx="1203.7" cy="1184.0" r="8.9" fill="#b014f5"/>
<circle cx="1209.5" cy="1175.0" r="8.9" fill="#b014f5"/>
<circle cx="1208.2" cy="1147.5" r="8.9" fill="#b014f5"/>
<circle cx="1207.0" cy="1171.0" r="8.9" fill="#b014f5"/>
<circle cx="1207.0" cy="1206.0" r="8.9" fill="#b014f5"/>
<path d="M1251.0 1227.5h21" stroke="#000" stroke-width="4.7" fill="none"/>
<circle cx="1259.9" cy="1227.5" r="8.9" fill="#0508ff"/>
<circle cx="1263.2" cy="1227.5" r="8.9" fill="#0508ff"/>
<circle cx="1261.5" cy="1227.5" r="8.9" fill="#0508ff"/>
<path d="M1283.8 1227.5h21" stroke="#000" stroke-width="4.7" fill="none"/>
<circle cx="1292.7" cy="1227.5" r="8.9" fill="#ff1212"/>
<circle cx="1296.0" cy="1227.5" r="8.9" fill="#ff1212"/>
<circle cx="1294.3" cy="1227.5" r="8.9" fill="#ff1212"/>
<path d="M1327.2 1221.4V1226.6M1319.7 1221.4h15M1319.7 1226.6h15" stroke="#000" stroke-width="4.7" fill="none"/>
<path d="M1316.7 1224.0h21" stroke="#000" stroke-width="4.7" fill="none"/>
<circle cx="1325.5" cy="1225.5" r="8.9" fill="#14c814"/>
<circle cx="1328.8" cy="1225.5" r="8.9" fill="#14c814"/>
<circle cx="1327.2" cy="1221.0" r="8.9" fill="#14c814"/>
<path d="M1360.0 1209.6V1223.7M1352.5 1209.6h15M1352.5 1223.7h15" stroke="#000" stroke-width="4.7" fill="none"/>
<path d="M1349.5 1216.7h21" stroke="#000" stroke-width="4.7" fill="none"/>
<circle cx="1358.0" cy="1210.0" r="8.9" fill="#b014f5"/>
<circle cx="1358.7" cy="1224.0" r="8.9" fill="#b014f5"/>
<circle cx="1360.0" cy="1216.0" r="8.9" fill="#b014f5"/>
<path d="M1404.0 1226.7h21" stroke="#000" stroke-width="4.7" fill="none"/>
<circle cx="1412.9" cy="1227.5" r="8.9" fill="#0508ff"/>
<circle cx="1416.2" cy="1227.5" r="8.9" fill="#0508ff"/>
<circle cx="1414.5" cy="1225.0" r="8.9" fill="#0508ff"/>
<path d="M1447.3 1024.0V1121.0M1439.8 1024.0h15M1439.8 1121.0h15" stroke="#000" stroke-width="4.7" fill="none"/>
<path d="M1436.8 1072.5h21" stroke="#000" stroke-width="4.7" fill="none"/>
<circle cx="1450.6" cy="1076.0" r="8.9" fill="#ff1212"/>
<circle cx="1447.3" cy="1007.5" r="8.9" fill="#ff1212"/>
<circle cx="1447.3" cy="1031.0" r="8.9" fill="#ff1212"/>
<circle cx="1446.0" cy="1081.0" r="8.9" fill="#ff1212"/>
<circle cx="1448.6" cy="1096.0" r="8.9" fill="#ff1212"/>
<circle cx="1447.3" cy="1144.0" r="8.9" fill="#ff1212"/>
<path d="M1480.2 1088.0V1168.0M1472.7 1088.0h15M1472.7 1168.0h15" stroke="#000" stroke-width="4.7" fill="none"/>
<path d="M1469.7 1129.0h21" stroke="#000" stroke-width="4.7" fill="none"/>
<circle cx="1480.2" cy="1076.0" r="8.9" fill="#14c814"/>
<circle cx="1477.6" cy="1164.0" r="8.9" fill="#14c814"/>
<circle cx="1480.2" cy="1086.0" r="8.9" fill="#14c814"/>
<circle cx="1480.2" cy="1142.0" r="8.9" fill="#14c814"/>
<circle cx="1482.1" cy="1159.0" r="8.9" fill="#14c814"/>
<path d="M1513.0 1022.0V1136.0M1505.5 1022.0h15M1505.5 1136.0h15" stroke="#000" stroke-width="4.7" fill="none"/>
<path d="M1502.5 1079.0h21" stroke="#000" stroke-width="4.7" fill="none"/>
<circle cx="1514.9" cy="1061.0" r="8.9" fill="#b014f5"/>
<circle cx="1514.9" cy="1142.5" r="8.9" fill="#b014f5"/>
<circle cx="1514.9" cy="1016.0" r="8.9" fill="#b014f5"/>
<circle cx="1511.7" cy="1027.5" r="8.9" fill="#b014f5"/>
<circle cx="1511.7" cy="1070.5" r="8.9" fill="#b014f5"/>
<circle cx="1511.7" cy="1151.0" r="8.9" fill="#b014f5"/>
<path d="M136.6 1345.75V1651.65" stroke="#000" stroke-width="6.45"/>
<path d="M118.5 1648.7H737" stroke="#000" stroke-width="5.9"/>
<text class="tl" font-size="36" transform="translate(108 1659.3) scale(0.935 1)" text-anchor="end">0</text>
<path d="M118.5 1588.7H136.6" stroke="#000" stroke-width="5.9"/>
<text class="tl" font-size="36" transform="translate(108 1599.3) scale(0.935 1)" text-anchor="end">20</text>
<path d="M118.5 1528.7H136.6" stroke="#000" stroke-width="5.9"/>
<text class="tl" font-size="36" transform="translate(108 1539.3) scale(0.935 1)" text-anchor="end">40</text>
<path d="M118.5 1468.7H136.6" stroke="#000" stroke-width="5.9"/>
<text class="tl" font-size="36" transform="translate(108 1479.3) scale(0.935 1)" text-anchor="end">60</text>
<path d="M118.5 1408.7H136.6" stroke="#000" stroke-width="5.9"/>
<text class="tl" font-size="36" transform="translate(108 1419.3) scale(0.935 1)" text-anchor="end">80</text>
<path d="M118.5 1348.7H136.6" stroke="#000" stroke-width="5.9"/>
<text class="tl" font-size="36" transform="translate(108 1359.3) scale(0.935 1)" text-anchor="end">100</text>
<path d="M206.4 1648.7V1667.2" stroke="#000" stroke-width="6.45"/>
<text class="cl" transform="translate(206.4 1713.8) scale(0.974 1)" text-anchor="middle">Mock</text>
<path d="M359.4 1648.7V1667.2" stroke="#000" stroke-width="6.45"/>
<text class="cl" transform="translate(359.4 1713.8) scale(0.974 1)" text-anchor="middle">PMA+I</text>
<path d="M512.4 1648.7V1667.2" stroke="#000" stroke-width="6.45"/>
<text class="cl" transform="translate(512.4 1713.8) scale(0.974 1)" text-anchor="middle">K562</text>
<path d="M665.4 1648.7V1667.2" stroke="#000" stroke-width="6.45"/>
<text class="cl" transform="translate(665.4 1713.8) scale(0.974 1)" text-anchor="middle">Raji</text>
<text class="yl" transform="translate(64.5 1505) rotate(-90) scale(0.9 1)" text-anchor="middle">%CD107a+</text>
<path d="M158.4 1632.7V1649.1M150.9 1632.7h15M150.9 1649.1h15" stroke="#000" stroke-width="4.7" fill="none"/>
<path d="M147.9 1640.9h21" stroke="#000" stroke-width="4.7" fill="none"/>
<circle cx="158.4" cy="1649.0" r="8.9" fill="#0508ff"/>
<circle cx="158.4" cy="1646.0" r="8.9" fill="#0508ff"/>
<circle cx="156.4" cy="1631.0" r="8.9" fill="#0508ff"/>
<circle cx="160.3" cy="1637.5" r="8.9" fill="#0508ff"/>
<path d="M191.2 1618.7V1637.5M183.7 1618.7h15M183.7 1637.5h15" stroke="#000" stroke-width="4.7" fill="none"/>
<path d="M180.7 1628.1h21" stroke="#000" stroke-width="4.7" fill="none"/>
<circle cx="191.2" cy="1616.0" r="8.9" fill="#ff1212"/>
<circle cx="191.2" cy="1630.0" r="8.9" fill="#ff1212"/>
<circle cx="187.3" cy="1636.0" r="8.9" fill="#ff1212"/>
<circle cx="189.9" cy="1621.0" r="8.9" fill="#ff1212"/>
<circle cx="192.5" cy="1637.5" r="8.9" fill="#ff1212"/>
<path d="M224.0 1625.4V1648.1M216.5 1625.4h15M216.5 1648.1h15" stroke="#000" stroke-width="4.7" fill="none"/>
<path d="M213.5 1636.8h21" stroke="#000" stroke-width="4.7" fill="none"/>
<circle cx="225.9" cy="1646.0" r="8.9" fill="#14c814"/>
<circle cx="224.0" cy="1644.0" r="8.9" fill="#14c814"/>
<circle cx="224.0" cy="1636.0" r="8.9" fill="#14c814"/>
<circle cx="224.0" cy="1621.0" r="8.9" fill="#14c814"/>
<path d="M256.8 1609.0V1631.0M249.3 1609.0h15M249.3 1631.0h15" stroke="#000" stroke-width="4.7" fill="none"/>
<path d="M246.3 1619.0h21" stroke="#000" stroke-width="4.7" fill="none"/>
<circle cx="258.1" cy="1616.0" r="8.9" fill="#b014f5"/>
<circle cx="260.1" cy="1629.0" r="8.9" fill="#b014f5"/>
<circle cx="256.8" cy="1631.0" r="8.9" fill="#b014f5"/>
<circle cx="256.8" cy="1596.0" r="8.9" fill="#b014f5"/>
<circle cx="255.5" cy="1625.0" r="8.9" fill="#b014f5"/>
<path d="M311.4 1550.5V1576.5M303.9 1550.5h15M303.9 1576.5h15" stroke="#000" stroke-width="4.7" fill="none"/>
<path d="M300.9 1563.5h21" stroke="#000" stroke-width="4.7" fill="none"/>
<circle cx="308.1" cy="1562.5" r="8.9" fill="#0508ff"/>
<circle cx="311.4" cy="1549.5" r="8.9" fill="#0508ff"/>
<circle cx="312.7" cy="1561.0" r="8.9" fill="#0508ff"/>
<circle cx="311.4" cy="1581.0" r="8.9" fill="#0508ff"/>
<path d="M344.2 1472.5V1512.0M336.7 1472.5h15M336.7 1512.0h15" stroke="#000" stroke-width="4.7" fill="none"/>
<path d="M333.7 1492.0h21" stroke="#000" stroke-width="4.7" fill="none"/>
<circle cx="340.9" cy="1492.5" r="8.9" fill="#ff1212"/>
<circle cx="344.2" cy="1462.5" r="8.9" fill="#ff1212"/>
<circle cx="346.1" cy="1486.0" r="8.9" fill="#ff1212"/>
<circle cx="345.5" cy="1502.5" r="8.9" fill="#ff1212"/>
<circle cx="342.9" cy="1519.5" r="8.9" fill="#ff1212"/>
<path d="M377.0 1447.5V1476.0M369.5 1447.5h15M369.5 1476.0h15" stroke="#000" stroke-width="4.7" fill="none"/>
<path d="M366.5 1461.0h21" stroke="#000" stroke-width="4.7" fill="none"/>
<circle cx="373.7" cy="1474.0" r="8.9" fill="#14c814"/>
<circle cx="377.0" cy="1430.0" r="8.9" fill="#14c814"/>
<circle cx="377.0" cy="1470.5" r="8.9" fill="#14c814"/>
<circle cx="378.9" cy="1468.0" r="8.9" fill="#14c814"/>
<path d="M409.8 1478.6V1513.9M402.3 1478.6h15M402.3 1513.9h15" stroke="#000" stroke-width="4.7" fill="none"/>
<path d="M399.3 1496.2h21" stroke="#000" stroke-width="4.7" fill="none"/>
<circle cx="413.0" cy="1494.0" r="8.9" fill="#b014f5"/>
<circle cx="409.8" cy="1474.5" r="8.9" fill="#b014f5"/>
<circle cx="408.5" cy="1499.0" r="8.9" fill="#b014f5"/>
<circle cx="409.8" cy="1517.5" r="8.9" fill="#b014f5"/>
<path d="M453.9 1645.5h21" stroke="#000" stroke-width="4.7" fill="none"/>
<circle cx="462.7" cy="1646.0" r="8.9" fill="#0508ff"/>
<circle cx="466.1" cy="1646.0" r="8.9" fill="#0508ff"/>
<circle cx="464.4" cy="1644.5" r="8.9" fill="#0508ff"/>
<path d="M497.2 1619.8V1631.5M489.7 1619.8h15M489.7 1631.5h15" stroke="#000" stroke-width="4.7" fill="none"/>
<path d="M486.7 1625.7h21" stroke="#000" stroke-width="4.7" fill="none"/>
<circle cx="498.5" cy="1630.0" r="8.9" fill="#ff1212"/>
<circle cx="495.9" cy="1628.0" r="8.9" fill="#ff1212"/>
<circle cx="497.2" cy="1619.0" r="8.9" fill="#ff1212"/>
<path d="M530.0 1635.4V1640.6M522.5 1635.4h15M522.5 1640.6h15" stroke="#000" stroke-width="4.7" fill="none"/>
<path d="M519.5 1638.0h21" stroke="#000" stroke-width="4.7" fill="none"/>
<circle cx="528.7" cy="1636.0" r="8.9" fill="#14c814"/>
<circle cx="531.3" cy="1637.0" r="8.9" fill="#14c814"/>
<circle cx="530.0" cy="1641.0" r="8.9" fill="#14c814"/>
<path d="M562.8 1583.3V1615.5M555.3 1583.3h15M555.3 1615.5h15" stroke="#000" stroke-width="4.7" fill="none"/>
<path d="M552.3 1599.4h21" stroke="#000" stroke-width="4.7" fill="none"/>
<circle cx="566.1" cy="1612.5" r="8.9" fill="#b014f5"/>
<circle cx="562.8" cy="1602.5" r="8.9" fill="#b014f5"/>
<circle cx="562.8" cy="1576.0" r="8.9" fill="#b014f5"/>
<circle cx="562.8" cy="1591.0" r="8.9" fill="#b014f5"/>
<circle cx="561.5" cy="1615.0" r="8.9" fill="#b014f5"/>
<path d="M617.4 1633.6V1645.7M609.9 1633.6h15M609.9 1645.7h15" stroke="#000" stroke-width="4.7" fill="none"/>
<path d="M606.9 1639.7h21" stroke="#000" stroke-width="4.7" fill="none"/>
<circle cx="616.1" cy="1646.0" r="8.9" fill="#0508ff"/>
<circle cx="614.8" cy="1634.0" r="8.9" fill="#0508ff"/>
<circle cx="617.4" cy="1639.0" r="8.9" fill="#0508ff"/>
<path d="M650.2 1448.7V1476.9M642.7 1448.7h15M642.7 1476.9h15" stroke="#000" stroke-width="4.7" fill="none"/>
<path d="M639.7 1462.8h21" stroke="#000" stroke-width="4.7" fill="none"/>
<circle cx="650.2" cy="1450.0" r="8.9" fill="#ff1212"/>
<circle cx="653.5" cy="1452.5" r="8.9" fill="#ff1212"/>
<circle cx="650.2" cy="1470.0" r="8.9" fill="#ff1212"/>
<circle cx="648.9" cy="1457.5" r="8.9" fill="#ff1212"/>
<circle cx="650.2" cy="1484.0" r="8.9" fill="#ff1212"/>
<path d="M683.0 1436.0V1520.0M675.5 1436.0h15M675.5 1520.0h15" stroke="#000" stroke-width="4.7" fill="none"/>
<path d="M672.5 1478.0h21" stroke="#000" stroke-width="4.7" fill="none"/>
<circle cx="686.9" cy="1475.0" r="8.9" fill="#14c814"/>
<circle cx="681.0" cy="1526.0" r="8.9" fill="#14c814"/>
<circle cx="683.0" cy="1427.5" r="8.9" fill="#14c814"/>
<circle cx="683.0" cy="1445.0" r="8.9" fill="#14c814"/>
<circle cx="683.0" cy="1475.0" r="8.9" fill="#14c814"/>
<circle cx="684.3" cy="1517.5" r="8.9" fill="#14c814"/>
<path d="M715.8 1420.0V1500.0M708.3 1420.0h15M708.3 1500.0h15" stroke="#000" stroke-width="4.7" fill="none"/>
<path d="M705.3 1459.5h21" stroke="#000" stroke-width="4.7" fill="none"/>
<circle cx="717.8" cy="1412.5" r="8.9" fill="#b014f5"/>
<circle cx="717.8" cy="1436.0" r="8.9" fill="#b014f5"/>
<circle cx="713.9" cy="1424.0" r="8.9" fill="#b014f5"/>
<circle cx="715.8" cy="1472.5" r="8.9" fill="#b014f5"/>
<circle cx="715.8" cy="1496.0" r="8.9" fill="#b014f5"/>
<circle cx="715.8" cy="1514.5" r="8.9" fill="#b014f5"/>
<path d="M934.2 1345.75V1651.65" stroke="#000" stroke-width="5.9"/>
<path d="M916 1648.7H1534.7" stroke="#000" stroke-width="5.9"/>
<text class="tl" font-size="40.5" transform="translate(906 1661.3) scale(0.924 1)" text-anchor="end">0</text>
<path d="M916 1548.7H934.2" stroke="#000" stroke-width="5.9"/>
<text class="tl" font-size="40.5" transform="translate(906 1561.3) scale(0.924 1)" text-anchor="end">20</text>
<path d="M916 1448.7H934.2" stroke="#000" stroke-width="5.9"/>
<text class="tl" font-size="40.5" transform="translate(906 1461.3) scale(0.924 1)" text-anchor="end">40</text>
<path d="M916 1348.7H934.2" stroke="#000" stroke-width="5.9"/>
<text class="tl" font-size="40.5" transform="translate(906 1361.3) scale(0.924 1)" text-anchor="end">60</text>
<path d="M1004 1648.7V1667.2" stroke="#000" stroke-width="5.9"/>
<text class="cl" transform="translate(1004 1713.8) scale(0.974 1)" text-anchor="middle">Mock</text>
<path d="M1157 1648.7V1667.2" stroke="#000" stroke-width="5.9"/>
<text class="cl" transform="translate(1157 1713.8) scale(0.974 1)" text-anchor="middle">PMA+I</text>
<path d="M1310 1648.7V1667.2" stroke="#000" stroke-width="5.9"/>
<text class="cl" transform="translate(1310 1713.8) scale(0.974 1)" text-anchor="middle">K562</text>
<path d="M1463 1648.7V1667.2" stroke="#000" stroke-width="5.9"/>
<text class="cl" transform="translate(1463 1713.8) scale(0.974 1)" text-anchor="middle">Raji</text>
<text class="yl" transform="translate(850.7 1503) rotate(-90) scale(0.9 1)" text-anchor="middle">%CD107a+</text>
<path d="M955.5 1641.4V1646.0M948.0 1641.4h15M948.0 1646.0h15" stroke="#000" stroke-width="4.7" fill="none"/>
<path d="M945.0 1643.7h21" stroke="#000" stroke-width="4.7" fill="none"/>
<circle cx="953.9" cy="1645.0" r="8.9" fill="#0508ff"/>
<circle cx="957.2" cy="1645.0" r="8.9" fill="#0508ff"/>
<circle cx="955.5" cy="1641.0" r="8.9" fill="#0508ff"/>
<path d="M988.4 1619.2V1637.3M980.9 1619.2h15M980.9 1637.3h15" stroke="#000" stroke-width="4.7" fill="none"/>
<path d="M977.9 1628.2h21" stroke="#000" stroke-width="4.7" fill="none"/>
<circle cx="989.6" cy="1619.0" r="8.9" fill="#ff1212"/>
<circle cx="991.6" cy="1630.0" r="8.9" fill="#ff1212"/>
<circle cx="988.4" cy="1624.0" r="8.9" fill="#ff1212"/>
<circle cx="988.4" cy="1640.0" r="8.9" fill="#ff1212"/>
<path d="M1021.1 1608.0V1644.0M1013.6 1608.0h15M1013.6 1644.0h15" stroke="#000" stroke-width="4.7" fill="none"/>
<path d="M1010.6 1626.0h21" stroke="#000" stroke-width="4.7" fill="none"/>
<circle cx="1019.2" cy="1611.0" r="8.9" fill="#14c814"/>
<circle cx="1019.2" cy="1641.0" r="8.9" fill="#14c814"/>
<circle cx="1021.1" cy="1604.5" r="8.9" fill="#14c814"/>
<circle cx="1022.4" cy="1637.5" r="8.9" fill="#14c814"/>
<path d="M1054.0 1619.1V1641.3M1046.5 1619.1h15M1046.5 1641.3h15" stroke="#000" stroke-width="4.7" fill="none"/>
<path d="M1043.5 1630.2h21" stroke="#000" stroke-width="4.7" fill="none"/>
<circle cx="1055.2" cy="1616.0" r="8.9" fill="#b014f5"/>
<circle cx="1057.2" cy="1639.0" r="8.9" fill="#b014f5"/>
<circle cx="1050.7" cy="1641.0" r="8.9" fill="#b014f5"/>
<circle cx="1054.0" cy="1621.0" r="8.9" fill="#b014f5"/>
<circle cx="1054.0" cy="1634.0" r="8.9" fill="#b014f5"/>
<path d="M1108.5 1613.1V1629.4M1101.0 1613.1h15M1101.0 1629.4h15" stroke="#000" stroke-width="4.7" fill="none"/>
<path d="M1098.0 1621.2h21" stroke="#000" stroke-width="4.7" fill="none"/>
<circle cx="1111.8" cy="1619.0" r="8.9" fill="#0508ff"/>
<circle cx="1111.8" cy="1630.0" r="8.9" fill="#0508ff"/>
<circle cx="1109.8" cy="1611.0" r="8.9" fill="#0508ff"/>
<circle cx="1107.2" cy="1625.0" r="8.9" fill="#0508ff"/>
<path d="M1141.3 1520.0V1575.0M1133.8 1520.0h15M1133.8 1575.0h15" stroke="#000" stroke-width="4.7" fill="none"/>
<path d="M1130.8 1547.0h21" stroke="#000" stroke-width="4.7" fill="none"/>
<circle cx="1143.3" cy="1529.0" r="8.9" fill="#ff1212"/>
<circle cx="1138.8" cy="1541.0" r="8.9" fill="#ff1212"/>
<circle cx="1141.3" cy="1520.0" r="8.9" fill="#ff1212"/>
<circle cx="1143.3" cy="1550.0" r="8.9" fill="#ff1212"/>
<circle cx="1141.3" cy="1593.0" r="8.9" fill="#ff1212"/>
<path d="M1174.2 1487.0V1572.5M1166.7 1487.0h15M1166.7 1572.5h15" stroke="#000" stroke-width="4.7" fill="none"/>
<path d="M1163.7 1529.5h21" stroke="#000" stroke-width="4.7" fill="none"/>
<circle cx="1176.8" cy="1534.0" r="8.9" fill="#14c814"/>
<circle cx="1174.2" cy="1471.0" r="8.9" fill="#14c814"/>
<circle cx="1174.2" cy="1492.0" r="8.9" fill="#14c814"/>
<circle cx="1172.9" cy="1539.0" r="8.9" fill="#14c814"/>
<circle cx="1174.2" cy="1561.0" r="8.9" fill="#14c814"/>
<circle cx="1174.2" cy="1582.5" r="8.9" fill="#14c814"/>
<path d="M1207.0 1572.3V1607.5M1199.5 1572.3h15M1199.5 1607.5h15" stroke="#000" stroke-width="4.7" fill="none"/>
<path d="M1196.5 1589.9h21" stroke="#000" stroke-width="4.7" fill="none"/>
<circle cx="1203.7" cy="1571.0" r="8.9" fill="#b014f5"/>
<circle cx="1203.7" cy="1594.0" r="8.9" fill="#b014f5"/>
<circle cx="1210.2" cy="1605.0" r="8.9" fill="#b014f5"/>
<circle cx="1208.2" cy="1567.5" r="8.9" fill="#b014f5"/>
<circle cx="1208.2" cy="1591.0" r="8.9" fill="#b014f5"/>
<circle cx="1205.7" cy="1611.0" r="8.9" fill="#b014f5"/>
<path d="M1251.0 1645.0h21" stroke="#000" stroke-width="4.7" fill="none"/>
<circle cx="1259.9" cy="1645.0" r="8.9" fill="#0508ff"/>
<circle cx="1263.2" cy="1645.0" r="8.9" fill="#0508ff"/>
<circle cx="1261.5" cy="1645.0" r="8.9" fill="#0508ff"/>
<path d="M1294.3 1629.2V1640.2M1286.8 1629.2h15M1286.8 1640.2h15" stroke="#000" stroke-width="4.7" fill="none"/>
<path d="M1283.8 1634.7h21" stroke="#000" stroke-width="4.7" fill="none"/>
<circle cx="1296.9" cy="1635.0" r="8.9" fill="#ff1212"/>
<circle cx="1294.3" cy="1629.0" r="8.9" fill="#ff1212"/>
<circle cx="1293.0" cy="1640.0" r="8.9" fill="#ff1212"/>
<path d="M1327.2 1608.0V1648.0M1319.7 1608.0h15M1319.7 1648.0h15" stroke="#000" stroke-width="4.7" fill="none"/>
<path d="M1316.7 1629.0h21" stroke="#000" stroke-width="4.7" fill="none"/>
<circle cx="1327.2" cy="1612.5" r="8.9" fill="#14c814"/>
<circle cx="1325.2" cy="1642.5" r="8.9" fill="#14c814"/>
<circle cx="1327.2" cy="1605.0" r="8.9" fill="#14c814"/>
<circle cx="1328.5" cy="1639.0" r="8.9" fill="#14c814"/>
<path d="M1360.0 1617.0V1643.0M1352.5 1617.0h15M1352.5 1643.0h15" stroke="#000" stroke-width="4.7" fill="none"/>
<path d="M1349.5 1630.0h21" stroke="#000" stroke-width="4.7" fill="none"/>
<circle cx="1363.2" cy="1641.0" r="8.9" fill="#b014f5"/>
<circle cx="1360.0" cy="1617.5" r="8.9" fill="#b014f5"/>
<circle cx="1360.0" cy="1637.5" r="8.9" fill="#b014f5"/>
<path d="M1414.5 1624.0V1648.0M1407.0 1624.0h15M1407.0 1648.0h15" stroke="#000" stroke-width="4.7" fill="none"/>
<path d="M1404.0 1636.0h21" stroke="#000" stroke-width="4.7" fill="none"/>
<circle cx="1412.6" cy="1646.0" r="8.9" fill="#0508ff"/>
<circle cx="1414.5" cy="1624.0" r="8.9" fill="#0508ff"/>
<circle cx="1416.5" cy="1642.5" r="8.9" fill="#0508ff"/>
<path d="M1447.3 1398.0V1560.0M1439.8 1398.0h15M1439.8 1560.0h15" stroke="#000" stroke-width="4.7" fill="none"/>
<path d="M1436.8 1479.0h21" stroke="#000" stroke-width="4.7" fill="none"/>
<circle cx="1444.1" cy="1400.0" r="8.9" fill="#ff1212"/>
<circle cx="1450.6" cy="1472.5" r="8.9" fill="#ff1212"/>
<circle cx="1444.8" cy="1565.0" r="8.9" fill="#ff1212"/>
<circle cx="1448.6" cy="1397.5" r="8.9" fill="#ff1212"/>
<circle cx="1446.0" cy="1477.0" r="8.9" fill="#ff1212"/>
<circle cx="1448.6" cy="1559.0" r="8.9" fill="#ff1212"/>
<path d="M1480.2 1423.0V1550.0M1472.7 1423.0h15M1472.7 1550.0h15" stroke="#000" stroke-width="4.7" fill="none"/>
<path d="M1469.7 1486.0h21" stroke="#000" stroke-width="4.7" fill="none"/>
<circle cx="1482.1" cy="1506.0" r="8.9" fill="#14c814"/>
<circle cx="1483.4" cy="1536.0" r="8.9" fill="#14c814"/>
<circle cx="1481.5" cy="1400.0" r="8.9" fill="#14c814"/>
<circle cx="1477.6" cy="1414.0" r="8.9" fill="#14c814"/>
<circle cx="1478.2" cy="1516.0" r="8.9" fill="#14c814"/>
<circle cx="1478.2" cy="1542.0" r="8.9" fill="#14c814"/>
<path d="M1513.0 1430.0V1546.0M1505.5 1430.0h15M1505.5 1546.0h15" stroke="#000" stroke-width="4.7" fill="none"/>
<path d="M1502.5 1487.5h21" stroke="#000" stroke-width="4.7" fill="none"/>
<circle cx="1510.4" cy="1422.5" r="8.9" fill="#b014f5"/>
<circle cx="1516.2" cy="1544.0" r="8.9" fill="#b014f5"/>
<circle cx="1514.9" cy="1417.0" r="8.9" fill="#b014f5"/>
<circle cx="1514.9" cy="1497.5" r="8.9" fill="#b014f5"/>
<circle cx="1511.0" cy="1507.5" r="8.9" fill="#b014f5"/>
<circle cx="1511.7" cy="1546.0" r="8.9" fill="#b014f5"/>
<circle cx="956.5" cy="1764.5" r="8.9" fill="#0508ff"/>
<text class="lg" transform="translate(1025 1781.5) scale(0.922 1)" text-anchor="start">Pulse</text>
<circle cx="956.5" cy="1824.5" r="8.9" fill="#ff1212"/>
<text class="lg" transform="translate(1025 1841.5) scale(0.915 1)" text-anchor="start">Lenti</text>
<circle cx="1276.5" cy="1764.5" r="8.9" fill="#14c814"/>
<text class="lg" transform="translate(1343 1781.5) scale(0.902 1)" text-anchor="start">AAVS1</text>
<circle cx="1276.5" cy="1824.5" r="8.9" fill="#b014f5"/>
<text class="lg" transform="translate(1345.5 1841.5) scale(0.912 1)" text-anchor="start">TRAC</text>
</g>
</svg>
</body></html>
